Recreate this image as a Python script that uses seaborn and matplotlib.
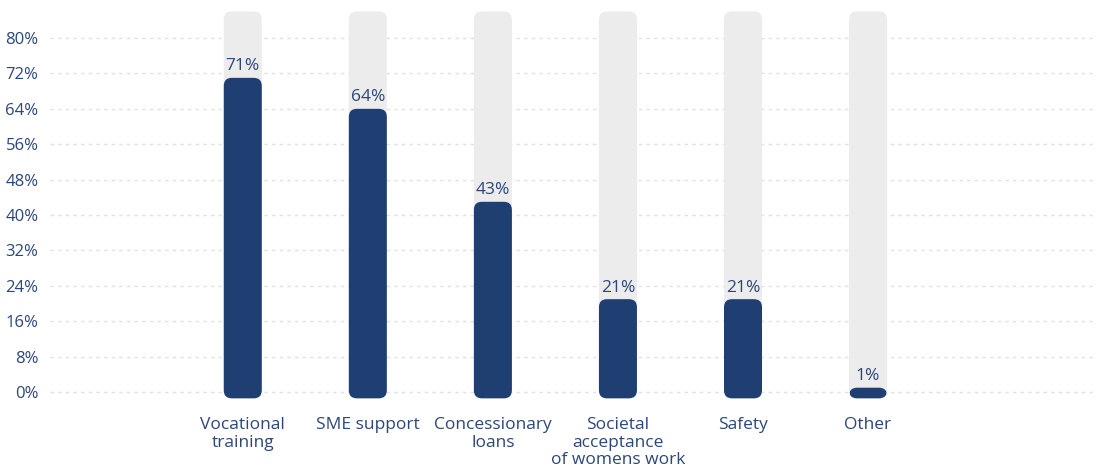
import matplotlib
matplotlib.use("Agg")
import matplotlib.pyplot as plt
from matplotlib.patches import FancyBboxPatch
import seaborn as sns
import pandas as pd

categories = ["Vocational\ntraining", "SME support", "Concessionary\nloans",
              "Societal\nacceptance\nof womens work", "Safety", "Other"]
values = [71, 64, 43, 21, 21, 1]
track_max = 86
y_ticks = [0, 8, 16, 24, 32, 40, 48, 56, 64, 72, 80]
y_tick_labels = [f"{t}%" for t in y_ticks]

NAVY = "#1f3f73"
TEXT = "#2b467a"
TRACK = "#ececec"
GRID = "#e2e2e2"

sns.set_theme(style="white")
plt.rcParams["font.family"] = ["Open Sans", "DejaVu Sans"]

df = pd.DataFrame({"category": categories, "value": values,
                   "track": [track_max] * len(categories)})

fig = plt.figure(figsize=(11.04, 4.70), dpi=100)
ax = fig.add_axes([0.045, 0.128, 0.947, 0.8665])

bar_w = 0.304
sns.barplot(data=df, x="category", y="track", color=TRACK, width=bar_w, ax=ax,
            saturation=1, zorder=2)
sns.barplot(data=df, x="category", y="value", color=NAVY, width=bar_w, ax=ax,
            saturation=1, zorder=3)

ax.set_xlim(-1.544, 6.816)
ax.set_ylim(-4, 88)

# swap plain rectangles for rounded ones extending slightly below zero
base = -1.4
px_x = 1 / 125.0
px_y = 92 / (0.8665 * 470)
aspect = px_y / px_x
radius = 8 * px_x
patches = list(ax.patches)
for p in patches:
    x, w, h = p.get_x(), p.get_width(), p.get_height()
    fc, z = p.get_facecolor(), p.get_zorder()
    p.remove()
    rb = FancyBboxPatch((x, base), w, h - base,
                        boxstyle=f"round,pad=0,rounding_size={radius}",
                        mutation_aspect=aspect, facecolor=fc, edgecolor="none",
                        zorder=z)
    ax.add_patch(rb)

for i, v in enumerate(values):
    ax.text(i, v + 0.8, f"{v}%", ha="center", va="bottom", color=TEXT,
            fontsize=12.5, zorder=4)

ax.set_yticks(y_ticks)
ax.set_yticklabels(y_tick_labels, color=TEXT, fontsize=12)
ax.set_xticks(range(len(categories)))
ax.set_xticklabels(categories, color=TEXT, fontsize=12.5, linespacing=1.15,
                   va="top")
ax.tick_params(axis="both", length=0)
ax.tick_params(axis="y", pad=8)
ax.tick_params(axis="x", pad=5)
ax.set_xlabel("")
ax.set_ylabel("")
ax.grid(axis="y", color=GRID, linestyle=(0, (2.5, 3)), linewidth=1, zorder=0)
ax.set_axisbelow(True)
for s in ax.spines.values():
    s.set_visible(False)

fig.savefig("out.png", dpi=100)
